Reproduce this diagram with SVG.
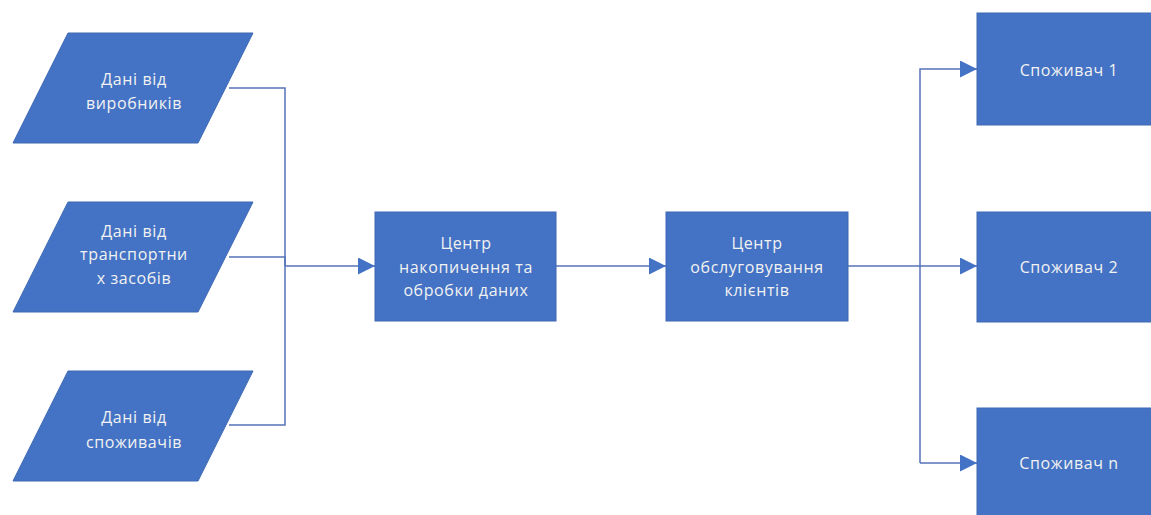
<svg xmlns="http://www.w3.org/2000/svg" width="1151" height="515" viewBox="0 0 1151 515">
<defs>
<style>
.shape{fill:#4472C4;stroke:#3E68B3;stroke-width:1}
.t{font-family:"Open Sans","Noto Sans","DejaVu Sans",sans-serif;font-size:16px;letter-spacing:0.6px;fill:#F2F2F2;text-anchor:middle;dominant-baseline:central}
.ln{fill:none;stroke:#5673B8;stroke-width:1.5}
</style>
<marker id="arr" viewBox="0 0 10 10" refX="10" refY="5" markerWidth="17" markerHeight="17" markerUnits="userSpaceOnUse" orient="auto">
<path d="M0,0 L10,5 L0,10 z" fill="#4472C4"/>
</marker>
</defs>
<rect width="1151" height="515" fill="#FFFFFF"/>
<g id="connectors">
<polyline class="ln" points="229,88 285,88 285,425 229,425"/>
<polyline class="ln" points="229,257 285,257 285,266"/>
<line class="ln" x1="285" y1="266" x2="375" y2="266" marker-end="url(#arr)"/>
<line class="ln" x1="556" y1="266" x2="666" y2="266" marker-end="url(#arr)"/>
<line class="ln" x1="848" y1="266" x2="977" y2="266" marker-end="url(#arr)"/>
<polyline class="ln" points="920,463 920,69 977,69" marker-end="url(#arr)"/>
<line class="ln" x1="920" y1="463" x2="977" y2="463" marker-end="url(#arr)"/>
</g>
<g id="in1">
<polygon class="shape" points="68,33 253,33 198,143 13,143"/>
<text class="t" x="134" y="79">Дані від</text>
<text class="t" x="134" y="103">виробників</text>
</g>
<g id="in2">
<polygon class="shape" points="68,202 253,202 198,312 13,312"/>
<text class="t" x="134" y="231">Дані від</text>
<text class="t" x="134" y="254">транспортни</text>
<text class="t" x="134" y="278">х засобів</text>
</g>
<g id="in3">
<polygon class="shape" points="68,371 253,371 198,481 13,481"/>
<text class="t" x="134" y="417">Дані від</text>
<text class="t" x="134" y="442">споживачів</text>
</g>
<g id="center1">
<rect class="shape" x="375" y="212" width="181" height="109"/>
<text class="t" x="466" y="243">Центр</text>
<text class="t" x="466" y="267">накопичення та</text>
<text class="t" x="466" y="290">обробки даних</text>
</g>
<g id="center2">
<rect class="shape" x="666" y="212" width="182" height="109"/>
<text class="t" x="757" y="243">Центр</text>
<text class="t" x="757" y="267">обслуговування</text>
<text class="t" x="757" y="290">клієнтів</text>
</g>
<g id="cons1">
<rect class="shape" x="977" y="13" width="182" height="112"/>
<text class="t" x="1069" y="70">Споживач 1</text>
</g>
<g id="cons2">
<rect class="shape" x="977" y="212" width="182" height="110"/>
<text class="t" x="1069" y="267">Споживач 2</text>
</g>
<g id="consn">
<rect class="shape" x="977" y="408" width="182" height="112"/>
<text class="t" x="1069" y="463">Споживач n</text>
</g>
</svg>
